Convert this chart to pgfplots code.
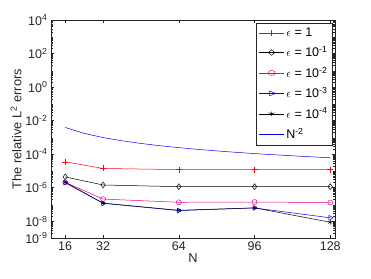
\documentclass[border=0pt]{standalone}
\usepackage{fontspec}
\setmainfont{Liberation Sans}
\usepackage{pgfplots}
\pgfplotsset{compat=1.18}
\usetikzlibrary{calc}
\definecolor{axgray}{rgb}{0.15,0.15,0.15}
\def\myminor{}
\foreach \e in {-9,...,3}{\foreach \m in {2,...,9}{\xdef\myminor{\myminor\m e\e,}}}
\xdef\myminor{\myminor 1e4}
\begin{document}
\begin{tikzpicture}
\begin{axis}[name=ax,
  scale only axis, width=284pt, height=218pt,
  ymode=log, xmin=10, xmax=130, ymin=1e-9, ymax=1e4,
  xtick={16,32,64,96,128}, xticklabels={16,32,64,96,128},
  ytick={1e-9,1e-8,1e-6,1e-4,1e-2,1,1e2,1e4},
  yticklabels={10\textsuperscript{-9},10\textsuperscript{-8},10\textsuperscript{-6},10\textsuperscript{-4},10\textsuperscript{-2},10\textsuperscript{0},10\textsuperscript{2},10\textsuperscript{4}},
  minor ytick/.expand once=\myminor,
  tick align=inside, tick pos=both,
  major tick length=3pt, minor tick length=1.6pt,
  axis line style={axgray, line width=0.4pt},
  every tick/.style={axgray, line width=0.4pt},
  tick label style={font=\fontsize{12.5}{13}\selectfont, text=axgray},
  label style={font=\fontsize{12.8}{14}\selectfont, text=axgray},
  xlabel={N}, ylabel={The relative L\textsuperscript{2} errors},
  xlabel style={yshift=4pt}, ylabel style={yshift=-3pt},
  legend style={at={(rel axis cs:0.99,0.985)}, anchor=north east, draw=axgray, line width=0.4pt,
    font=\fontsize{12.5}{13}\selectfont, row sep=4.5pt, inner sep=2.5pt},
  legend cell align=left,
  legend image post style={xscale=1.45},
  every axis plot/.append style={line width=0.5pt, mark size=2.5pt},
]
\addplot[red, mark=+, mark size=3pt] coordinates {(16,3.5e-5) (32,1.4e-5) (64,1.2e-5) (96,1.2e-5) (128,1.2e-5)};
\addlegendentry{$\epsilon$ = 1}
\addplot[black, mark=diamond, mark size=2.9pt] coordinates {(16,4.4e-6) (32,1.45e-6) (64,1.15e-6) (96,1.15e-6) (128,1.15e-6)};
\addlegendentry{$\epsilon$ = 10\textsuperscript{-1}}
\addplot[magenta, mark=o] coordinates {(16,2.1e-6) (32,2.1e-7) (64,1.35e-7) (96,1.4e-7) (128,1.3e-7)};
\addlegendentry{$\epsilon$ = 10\textsuperscript{-2}}
\addplot[blue, mark=triangle, mark size=2.8pt, mark options={rotate=-90}] coordinates {(16,2.0e-6) (32,1.17e-7) (64,4.3e-8) (96,6.2e-8) (128,1.6e-8)};
\addlegendentry{$\epsilon$ = 10\textsuperscript{-3}}
\addplot[black, mark=asterisk, mark size=2.3pt] coordinates {(16,2.1e-6) (32,1.2e-7) (64,4.5e-8) (96,6.3e-8) (128,8.7e-9)};
\addlegendentry{$\epsilon$ = 10\textsuperscript{-4}}
\addplot[blue, no marks] coordinates {(16,0.00390625) (24,0.00173611) (32,0.00097656) (40,0.000625) (48,0.00043403) (56,0.00031888) (64,0.00024414) (72,0.00019290) (80,0.00015625) (88,0.00012913) (96,0.00010851) (104,0.00009246) (112,0.00007972) (120,0.00006944) (128,0.00006104)};
\addlegendentry{N\textsuperscript{-2}}
\end{axis}
\pgfresetboundingbox
\useasboundingbox ($(ax.south west)+(-51pt,-40pt)$) rectangle ($(ax.north east)+(36pt,20pt)$);
\end{tikzpicture}
\end{document}
